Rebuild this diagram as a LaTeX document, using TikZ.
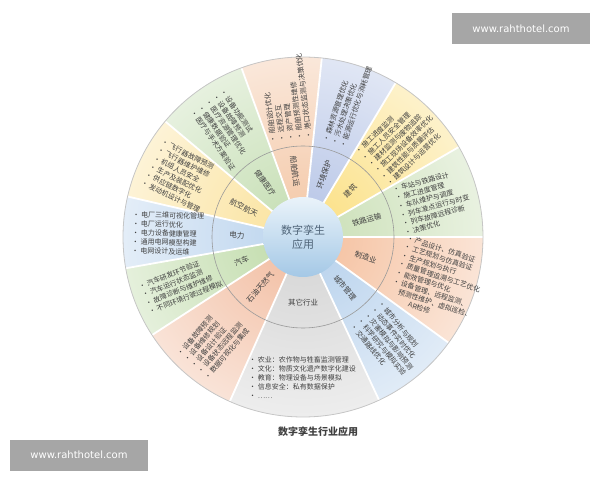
\documentclass[tikz,border=0pt]{standalone}
\usepackage{fontspec}
\setmainfont{Noto Sans CJK SC}
\newfontfamily\markfont{DejaVu Sans}
\usetikzlibrary{calc,fadings}

\definecolor{shipcol}{HTML}{F4C6A4}
\definecolor{healthcol}{HTML}{C3DDB0}
\definecolor{aerocol}{HTML}{FBE29A}
\definecolor{powercol}{HTML}{BBD4EE}
\definecolor{autocol}{HTML}{BFDBA8}
\definecolor{oilcol}{HTML}{F2BB9E}
\definecolor{othercol}{HTML}{D4D4D4}
\definecolor{citycol}{HTML}{B5D0EC}
\definecolor{manucol}{HTML}{F5BE9B}
\definecolor{railcol}{HTML}{C9DFB4}
\definecolor{buildcol}{HTML}{FCDF7E}
\definecolor{envcol}{HTML}{B4C3E6}
\definecolor{coretop}{HTML}{EAF3FA}
\definecolor{corebottom}{HTML}{A4C8E6}
\definecolor{coretext}{HTML}{4F6478}
\definecolor{textgray}{HTML}{404040}
\definecolor{markgray}{HTML}{A6A6A6}

\tikzfading[name=rim fade, inner color=transparent!100, outer color=transparent!40]

\tikzset{
  sector sep/.style={white, line width=1.8pt},
  ring line/.style={draw=gray!80, line width=0.6pt},
  rim line/.style={draw=gray!45, line width=0.8pt},
  list text/.style={font=\fontsize{7}{9}\selectfont, text=textgray, align=left, inner sep=1pt, anchor=west},
  sector label/.style={font=\fontsize{7.5}{8}\selectfont, text=textgray, inner sep=1pt},
  core/.style={circle, minimum size=80pt, inner sep=0pt, top color=coretop, bottom color=corebottom,
    font=\fontsize{11}{14}\selectfont, text=coretext, align=center},
  mark box/.style={fill=markgray, text=white, font=\markfont\fontsize{10}{12}\selectfont, minimum width=138pt, minimum height=31pt, inner sep=0pt},
}
\newcommand\itm{\textbullet\ }

\begin{document}
\begin{tikzpicture}[x=1pt,y=1pt]
\useasboundingbox (0,0) rectangle (600,480);
\coordinate (C) at (303,243);
\def\R{180}
\def\Rring{91}

% sectors
\foreach \a/\b/\col in {84/110/shipcol,110/140/healthcol,140/167/aerocol,167/190/powercol,190/213/autocol,213/246/oilcol,
    246/295/othercol,295/324/citycol,324/360/manucol,0/30/railcol,30/59/buildcol,59/84/envcol}
  \fill[\col] (C) -- ($(C)+(\a:\R pt)$) arc[start angle=\a, end angle=\b, radius=\R pt] -- cycle;
\fill[white, path fading=rim fade] (C) circle[radius=\R pt];
\foreach \a in {0,30,59,84,110,140,167,190,213,246,295,324}
  \draw[sector sep] (C) -- ($(C)+(\a:\R pt)$);
\draw[ring line] (C) circle[radius=\Rring pt];
\draw[rim line] (C) circle[radius=\R pt];
\node[core] (core) at (C) {数字孪生\\应用};

% inner labels
\node[sector label, rotate=-83] (ship-lab) at ($(C)+(97:66pt)$) {船舶航运};
\node[sector label, rotate=-55] (health-lab) at ($(C)+(125:66pt)$) {健康医疗};
\node[sector label, rotate=-26.5] (aero-lab) at ($(C)+(153.5:66pt)$) {航空航天};
\node[sector label, rotate=-1.5] (power-lab) at ($(C)+(178.5:66pt)$) {电力};
\node[sector label, rotate=21.5] (auto-lab) at ($(C)+(201.5:66pt)$) {汽车};
\node[sector label, rotate=49.5] (oil-lab) at ($(C)+(229.5:66pt)$) {石油天然气};
\node[sector label] (other-lab) at ($(C)+(270:66pt)$) {其它行业};
\node[sector label, rotate=-50.5] (city-lab) at ($(C)+(309.5:66pt)$) {城市管理};
\node[sector label, rotate=-18] (manu-lab) at ($(C)+(342:66pt)$) {制造业};
\node[sector label, rotate=15] (rail-lab) at ($(C)+(15:66pt)$) {铁路运输};
\node[sector label, rotate=44.5] (build-lab) at ($(C)+(44.5:66pt)$) {建筑};
\node[sector label, rotate=71.5] (env-lab) at ($(C)+(71.5:66pt)$) {环境保护};

% lists, right half read outwards
\node[list text, rotate=97] (ship-list) at ($(C)+(97:96pt)$)
  {\itm 船舶设计优化\\\itm 远程交互\\\itm 资产管理\\\itm 船舶预测性维修\\\itm 港口状态监测与决策优化};
\node[list text, rotate=71.5] (env-list) at ($(C)+(71.5:96pt)$)
  {\itm 森林资源管理优化\\\itm 污水处理决策优化\\\itm 能源运行优化与消耗管理};
\node[list text, rotate=44.5] (build-list) at ($(C)+(44.5:96pt)$)
  {\itm 施工进度监测\\\itm 施工人员安全管理\\\itm 建材监测与废物追踪\\\itm 施工现场设备效率优化\\\itm 建筑性能与质量评估\\\itm 建筑设计与运营优化};
\node[list text, rotate=15] (rail-list) at ($(C)+(15:98pt)$)
  {\itm 车站与铁路设计\\\itm 施工进度管理\\\itm 车队维护与调度\\\itm 列车准点运行与时变\\\itm 列车故障远程诊断\\\itm 决策优化};
\node[list text, rotate=-18] (manu-list) at ($(C)+(342:98pt)$)
  {\itm 产品设计、仿真验证\\\itm 工艺规划与仿真验证\\\itm 生产规划与执行\\\itm 质量管理追溯与工艺优化\\\itm 能效管理与优化\\\itm 设备管理、远程监测、\\\phantom{\itm}预测性维护、虚拟巡检、\\\hspace{22pt}AR检修};
\node[list text, rotate=-50.5] (city-list) at ($(C)+(309.5:98pt)$)
  {\itm 城市分析与规划\\\itm 动态事件实时优化\\\itm 灾害模拟与影响预测\\\itm 科学研究与模拟实验\\\itm 交通路线优化};

% bottom
\node[list text, anchor=north west] (other-list) at (248,125)
  {\itm 农业：农作物与牲畜监测管理\\\itm 文化：物质文化遗产数字化建设\\\itm 教育：物理设备与场景模拟\\\itm 信息安全：私有数据保护\\\itm ……};

% lists, left half read inwards
\node[list text, rotate=49.5] (oil-list) at ($(C)+(229.5:172pt)$)
  {\itm 设备故障预测\\\itm 设备维修规划\\\itm 设备设计验证\\\itm 设备状态远程监测\\\itm 数据可视化与集成};
\node[list text, rotate=21.5] (auto-list) at ($(C)+(201.5:172pt)$)
  {\itm 汽车研发环节验证\\\itm 汽车运行状态监测\\\itm 故障诊断与维护维修\\\itm 不同环境行驶过程模拟};
\node[list text, rotate=-1.5] (power-list) at ($(C)+(178.5:172pt)$)
  {\itm 电厂三维可视化管理\\\itm 电厂运行优化\\\itm 电力设备健康管理\\\itm 通用电网模型构建\\\itm 电网设计及运维};
\node[list text, rotate=-26.5] (aero-list) at ($(C)+(153.5:170pt)$)
  {\itm 飞行器故障预测\\\itm 飞行器维护维修\\\itm 机组人员安全\\\itm 生产及装配优化\\\itm 供应链数字化\\\itm 发动机设计与管理};
\node[list text, rotate=-55] (health-list) at ($(C)+(125:168pt)$)
  {\itm 设备功能测试\\\itm 设备故障预测\\\itm 医疗资源管理优化\\\itm 健康数据验证\\\itm 医疗与手术方案验证};

% caption and marks
\node[font=\bfseries\fontsize{10}{12}\selectfont, text=textgray] (caption) at (318,48) {数字孪生行业应用};
\node[mark box] (mark-top) at (521,451) {www.rahthotel.com};
\node[mark box] (mark-bottom) at (79,25) {www.rahthotel.com};
\end{tikzpicture}
\end{document}
